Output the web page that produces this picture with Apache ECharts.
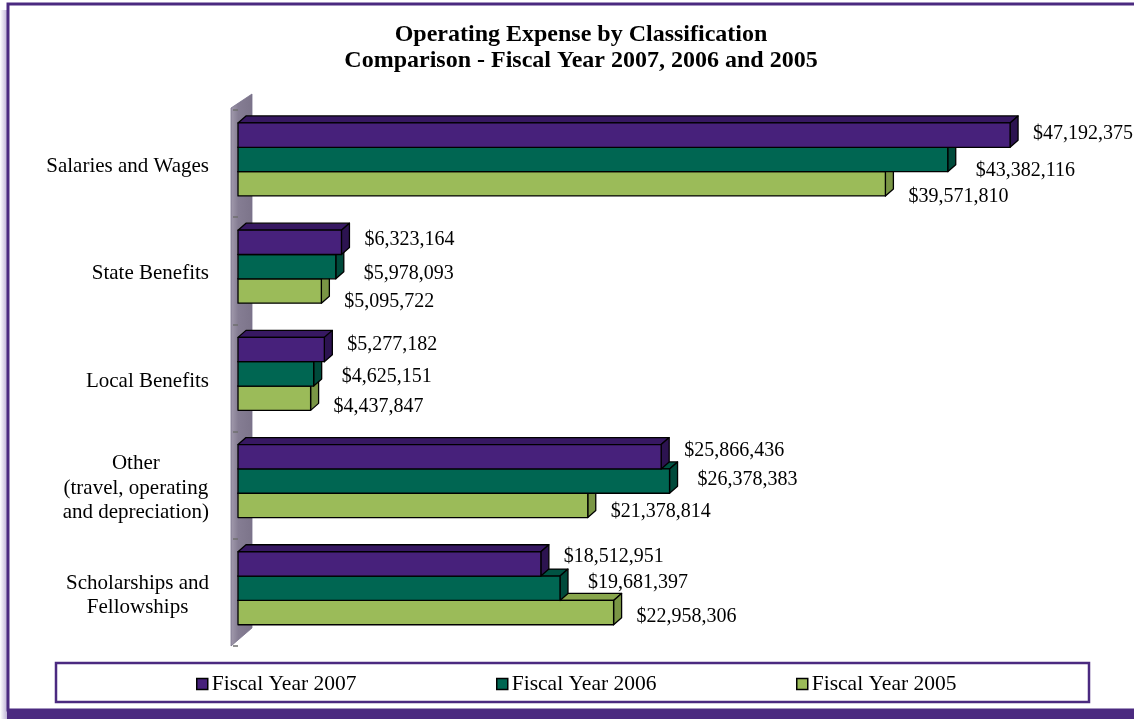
<!DOCTYPE html>
<html>
<head>
<meta charset="utf-8">
<title>Operating Expense by Classification</title>
<script src="https://cdn.jsdelivr.net/npm/echarts@6/dist/echarts.min.js"></script>
<style>
  html, body { margin: 0; padding: 0; background: #ffffff; }
  #chart { width: 1134px; height: 719px; }
</style>
</head>
<body>
<div id="chart"></div>
<script>
// Expense categories (top to bottom)
const categories = [
  'Salaries and Wages',
  'State Benefits',
  'Local Benefits',
  'Other\n(travel, operating\nand depreciation)',
  'Scholarships and\nFellowships'
];

// Operating expense per fiscal year, in dollars
const fy2007 = [47192375, 6323164, 5277182, 25866436, 18512951];
const fy2006 = [43382116, 5978093, 4625151, 26378383, 19681397];
const fy2005 = [39571810, 5095722, 4437847, 21378814, 22958306];

const seriesNames = ['Fiscal Year 2007', 'Fiscal Year 2006', 'Fiscal Year 2005'];

const SERIF = "'Times New Roman', 'Liberation Serif', serif";
const PURPLE = '#4b2a80';

// 3D depth of every bar (pixels to the right / upward)
const DX = 8, DY = 7;

// face colours: front, top, side
const palettes = [
  { front: '#47217b', top: '#371862', side: '#2c1350' },
  { front: '#006652', top: '#005343', side: '#004a3b' },
  { front: '#9bbb59', top: '#88a64c', side: '#7a9645' }
];

// value label placement per year: horizontal gap, vertical shift,
// and a small perspective drift of the vertical shift down the axis
const labelPlacement = [
  { dx: 15, dy: -4.4, drift: -1.6 },
  { dx: 20, dy: 3, drift: -4.2 },
  { dx: 15, dy: 8.2, drift: -2.2 }
];

function money(v) {
  return '$' + Number(v).toLocaleString('en-US');
}

function barRenderer(slot) {
  const pal = palettes[slot];
  const lp = labelPlacement[slot];
  return function (params, api) {
    const cat = api.value(1);
    const v = api.value(0);
    const start = api.coord([0, cat]);
    const end = api.coord([v, cat]);
    const band = api.size([0, 1])[1];
    const h = band * 0.227;
    const top = start[1] - band * 0.379 + slot * h;
    const bot = top + h;
    const x0 = start[0];
    const x1 = end[0];
    const mid = (categories.length - 1) / 2;
    const stroke = { stroke: '#000', lineWidth: 1.3, lineJoin: 'round' };
    return {
      type: 'group',
      children: [
        {
          type: 'polygon',
          shape: { points: [[x0, top], [x0 + DX, top - DY], [x1 + DX, top - DY], [x1, top]] },
          style: Object.assign({ fill: pal.top }, stroke)
        },
        {
          type: 'polygon',
          shape: { points: [[x1, top], [x1 + DX, top - DY], [x1 + DX, bot - DY], [x1, bot]] },
          style: Object.assign({ fill: pal.side }, stroke)
        },
        {
          type: 'rect',
          shape: { x: x0, y: top, width: x1 - x0, height: h },
          style: Object.assign({ fill: pal.front }, stroke)
        },
        {
          type: 'text',
          z2: 50,
          style: {
            text: money(v),
            x: x1 + DX + lp.dx,
            y: (top + bot) / 2 + lp.dy + lp.drift * (cat - mid),
            align: 'left',
            verticalAlign: 'middle',
            font: '20px ' + SERIF,
            fill: '#000'
          }
        }
      ]
    };
  };
}

// side wall standing behind the bars on the category axis
function wallRenderer(params, api) {
  const cs = params.coordSys;
  const x0 = api.coord([0, 0])[0];
  const top = cs.y, bot = cs.y + cs.height;
  return {
    type: 'polygon',
    shape: {
      points: [[x0 - 7, top - 2], [x0 + 14, top - 16], [x0 + 14, bot - 18], [x0 - 7, bot]]
    },
    style: {
      fill: {
        type: 'linear', x: 0, y: 0, x2: 1, y2: 0,
        colorStops: [
          { offset: 0, color: '#a39cae' },
          { offset: 0.35, color: '#857d93' },
          { offset: 1, color: '#7c748a' }
        ]
      },
      stroke: '#77708a',
      lineWidth: 0.8
    }
  };
}

const yearData = [fy2007, fy2006, fy2005];

const series = [
  {
    type: 'custom',
    silent: true,
    z: 1,
    renderItem: wallRenderer,
    data: [[0, 0]],
    encode: { x: 0, y: 1 }
  }
];
yearData.forEach(function (arr, i) {
  series.push({
    type: 'custom',
    name: seriesNames[i],
    z: 5 - i,
    itemStyle: { color: palettes[i].front },
    renderItem: barRenderer(i),
    encode: { x: 0, y: 1 },
    data: arr.map(function (v, c) { return [v, c]; })
  });
});

const legendLefts = [196, 496, 796];
const legends = seriesNames.map(function (name, i) {
  return {
    data: [name],
    left: legendLefts[i],
    top: 673,
    padding: 0,
    icon: 'rect',
    itemWidth: 11,
    itemHeight: 11,
    selectedMode: false,
    itemStyle: { borderColor: '#000', borderWidth: 1.5 },
    textStyle: { fontFamily: SERIF, fontSize: 21.5, color: '#000', lineHeight: 22, padding: [0, 0, 0, -1] }
  };
});

const chart = echarts.init(document.getElementById('chart'));
chart.setOption({
  animation: false,
  backgroundColor: '#ffffff',
  title: {
    text: 'Operating Expense by Classification\nComparison - Fiscal Year 2007, 2006 and 2005',
    left: 581,
    top: 22,
    padding: 0,
    textAlign: 'center',
    textStyle: { fontFamily: SERIF, fontSize: 24, fontWeight: 'bold', color: '#000', lineHeight: 26 }
  },
  legend: legends,
  grid: { left: 238, right: 78, top: 110, bottom: 73 },
  xAxis: {
    type: 'value',
    min: 0,
    max: 50000000,
    show: false
  },
  yAxis: {
    type: 'category',
    inverse: true,
    data: categories,
    offset: 8,
    z: 10,
    axisLine: { show: false },
    axisTick: { show: true, length: 5, lineStyle: { color: '#6f6f6f', width: 1.5 } },
    splitLine: { show: false },
    axisLabel: {
      margin: 21,
      padding: [6, 0, 0, 0],
      formatter: function (val) {
        return val.split('\n').map(function (l) { return '{c|' + l + '}'; }).join('\n');
      },
      rich: {
        c: { align: 'center', fontFamily: SERIF, fontSize: 21, color: '#000', lineHeight: 24.5 }
      }
    }
  },
  graphic: [
    // soft shadow along the outer frame's left edge
    {
      type: 'rect',
      silent: true,
      shape: { x: 0, y: 10, width: 8, height: 709 },
      style: {
        fill: {
          type: 'linear', x: 0, y: 0, x2: 1, y2: 0,
          colorStops: [
            { offset: 0, color: 'rgba(120,95,170,0)' },
            { offset: 1, color: 'rgba(120,95,170,0.55)' }
          ]
        }
      }
    },
    // outer frame
    {
      type: 'rect',
      silent: true,
      shape: { x: 8, y: 4, width: 1160, height: 706 },
      style: { fill: null, stroke: PURPLE, lineWidth: 3 }
    },
    {
      type: 'rect',
      silent: true,
      shape: { x: 7, y: 709, width: 1127, height: 10 },
      style: { fill: PURPLE }
    },
    // legend box
    {
      type: 'rect',
      silent: true,
      shape: { x: 56, y: 663, width: 1033, height: 39 },
      style: { fill: null, stroke: PURPLE, lineWidth: 2.5 }
    }
  ],
  series: series
});
</script>
</body>
</html>
